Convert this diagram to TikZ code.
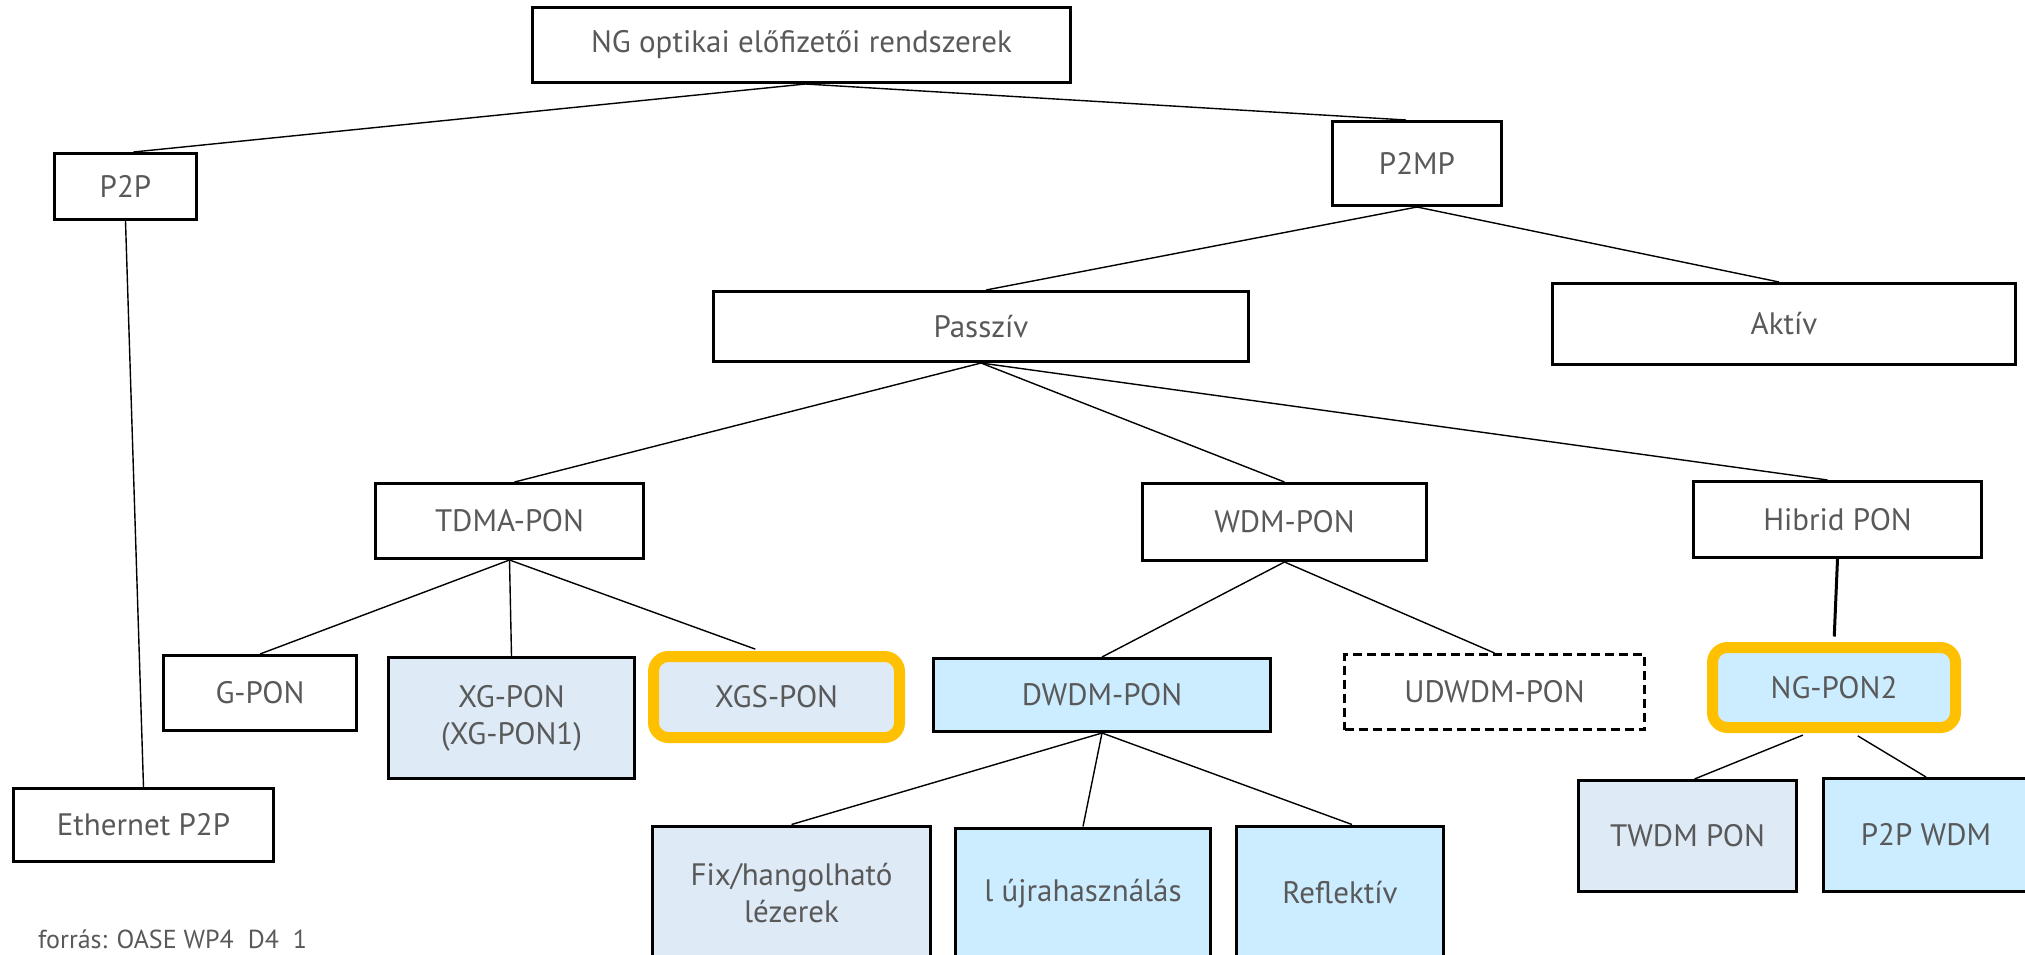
\documentclass[tikz,border=0pt]{standalone}
\usepackage{fontspec}
\setmainfont{PT Sans}
\usepackage{tikz}

\definecolor{txtgray}{HTML}{595959}
\definecolor{paleblue}{HTML}{DEEAF6}
\definecolor{skyblue}{HTML}{CCECFF}
\definecolor{ringorange}{HTML}{FFC000}

\tikzset{
  box/.style={draw, line width=3pt, text=txtgray, inner sep=0pt, align=center,
    font=\fontsize{31}{37}\selectfont},
  ring/.style={draw=ringorange, line width=11pt, rounded corners=15pt, text=txtgray,
    inner sep=0pt, font=\fontsize{31}{37}\selectfont},
  link/.style={line width=1.4pt},
}

\begin{document}
\begin{tikzpicture}[x=1pt,y=-1pt]
			\useasboundingbox (0,0) rectangle (2025,954);
			
			\node[box, minimum width=538pt, minimum height=75pt] (ng) at (801.5,45) {NG optikai előfizetői rendszerek};
			\node[box, minimum width=142pt, minimum height=66pt] (p2p) at (125.5,186.5) {P2P};
			\node[box, minimum width=169pt, minimum height=84pt] (p2mp) at (1417,163.5) {P2MP};
			\node[box, minimum width=535pt, minimum height=70pt] (passziv) at (981,326.5) {Passzív};
			\node[box, minimum width=463pt, minimum height=81pt] (aktiv) at (1784,324) {Aktív};
			
			\node[box, minimum width=268pt, minimum height=75pt] (tdma) at (509.5,521) {TDMA-PON};
			\node[box, minimum width=284pt, minimum height=77pt] (wdm) at (1284.5,522) {WDM-PON};
			\node[box, minimum width=288pt, minimum height=76pt] (hibrid) at (1837.5,519.5) {Hibrid PON};
			
			\node[box, minimum width=193pt, minimum height=75pt] (gpon) at (260,693) {G-PON};
			\node[box, fill=paleblue, minimum width=246pt, minimum height=121pt] (xgpon) at (511.5,718) {XG-PON\\(XG-PON1)};
			\node[ring, fill=paleblue, minimum width=246pt, minimum height=81pt] (xgspon) at (776.5,697) {XGS-PON};
			\node[box, fill=skyblue, minimum width=337pt, minimum height=73pt] (dwdm) at (1102,695) {DWDM-PON};
			\node[box, dash pattern=on 9pt off 5pt, minimum width=300pt, minimum height=75pt] (udwdm) at (1494.5,692) {UDWDM-PON};
			\node[ring, fill=skyblue, minimum width=243pt, minimum height=80pt] (ngpon2) at (1834,687.5) {NG-PON2};
			
			\node[box, minimum width=260pt, minimum height=73pt] (ethernet) at (143.5,825) {Ethernet P2P};
			\node[box, fill=paleblue, minimum width=278pt, minimum height=134pt] (fix) at (791.5,893) {Fix/hangolható\\lézerek};
			\node[box, fill=skyblue, minimum width=255pt, minimum height=132pt] (lambda) at (1083,894) {l újrahasználás};
			\node[box, fill=skyblue, minimum width=207pt, minimum height=134pt] (reflektiv) at (1340,893) {Reflektív};
			\node[box, fill=paleblue, minimum width=218pt, minimum height=111pt] (twdm) at (1687.5,836) {TWDM PON};
			\node[box, fill=skyblue, minimum width=205pt, minimum height=113pt] (p2pwdm) at (1926,835) {P2P WDM};
			
			\node[anchor=base west, text=txtgray, inner sep=0pt, font=\fontsize{26}{30}\selectfont] (src) at (38,948) {forrás: OASE WP4\ \ D4\ \ 1};
			
			\draw[link] ([xshift=4pt]ng.south) -- ([xshift=8pt]p2p.north);
			\draw[link] ([xshift=4pt]ng.south) -- ([xshift=-11pt]p2mp.north);
			\draw[link] (p2p.south) -- (ethernet.north);
			\draw[link] (p2mp.south) -- ([xshift=5pt]passziv.north);
			\draw[link] (p2mp.south) -- ([xshift=-5pt]aktiv.north);
			
			\draw[link] (passziv.south) -- ([xshift=5pt]tdma.north);
			\draw[link] (passziv.south) -- (wdm.north);
			\draw[link] (passziv.south) -- ([xshift=-10pt]hibrid.north);
			
			\draw[link] (tdma.south) -- (gpon.north);
			\draw[link] (tdma.south) -- (xgpon.north);
			\draw[link, shorten >=5.5pt] (tdma.south) -- ([xshift=-16pt]xgspon.north);
			\draw[link] (wdm.south) -- (dwdm.north);
			\draw[link] (wdm.south) -- (udwdm.north);
			\draw[line width=3pt, shorten >=5.5pt] (hibrid.south) -- (ngpon2.north);
			
			\draw[link] (dwdm.south) -- (fix.north);
			\draw[link] (dwdm.south) -- (lambda.north);
			\draw[link] (dwdm.south) -- ([xshift=12pt]reflektiv.north);
			\draw[link, shorten <=5.5pt] ([xshift=-26pt]ngpon2.south) -- ([xshift=7pt]twdm.north);
			\draw[link, shorten <=5.5pt] ([xshift=19pt]ngpon2.south) -- (p2pwdm.north);
		\end{tikzpicture}
\end{document}
